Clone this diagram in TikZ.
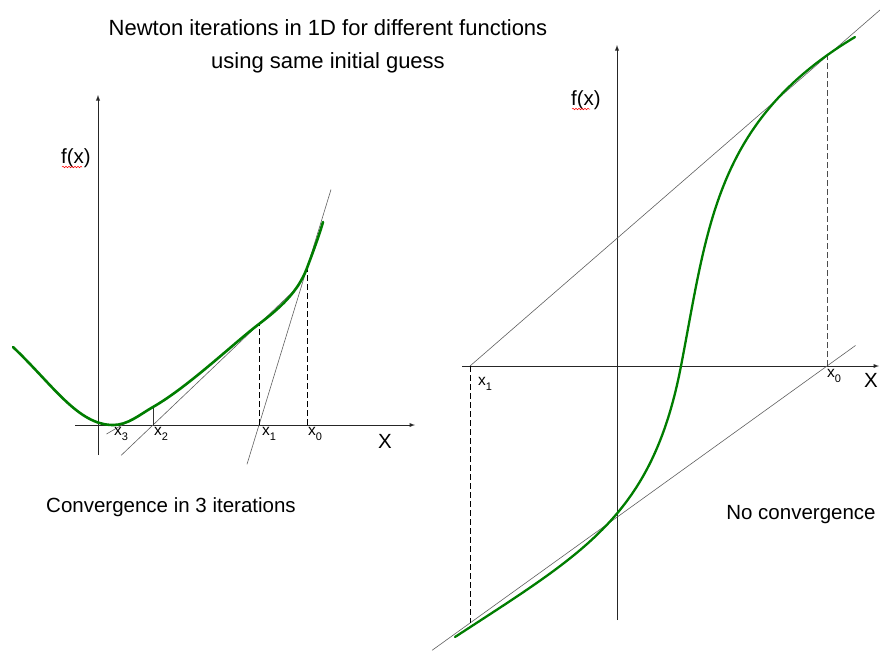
\documentclass[tikz,border=0pt]{standalone}
\usepackage{fontspec}
\setmainfont{Liberation Sans}
\usetikzlibrary{arrows, calc, math, decorations.pathmorphing}
\definecolor{mygreen}{RGB}{0,125,0}
\definecolor{mygray}{RGB}{95,95,95}
\newcommand{\xsub}[1]{x\raisebox{-0.6ex}{\fontsize{11}{11}\selectfont #1}}
\tikzset{
axisline/.style={-latex, line width=0.9pt, color=black!85},
tangent/.style={color=mygray, line width=0.6pt},
dropline/.style={dash pattern=on 6pt off 3pt, line width=0.7pt},
fcurve/.style={color=mygreen, line width=2.6pt, line cap=round},
bigtext/.style={font=\fontsize{20.5}{24}\selectfont, inner sep=0pt},
xlabel/.style={font=\fontsize{15.5}{17}\selectfont, inner sep=0pt, anchor=west},
squiggle/.style={color=red, line width=0.5pt, decorate,
  decoration={snake, amplitude=0.8pt, segment length=3pt}},
}

\begin{document}
\begin{tikzpicture}[x=1pt,y=-1pt]
\useasboundingbox (0,0) rectangle (880,657);

\node[font=\fontsize{22}{26}\selectfont, align=center, inner sep=0pt] (title) at (328,28)
{Newton iterations in 1D for different functions};
\node[font=\fontsize{22}{26}\selectfont, inner sep=0pt] (subtitle) at (328,63)
{using same initial guess};

% left: convergence
\coordinate (oL) at (98,425);
\coordinate (x0L) at (307,425);
\coordinate (x1L) at (259,425);
\coordinate (x2L) at (153,425);
\coordinate (x3L) at (122,425);
\coordinate (P0L) at (307,268);
\coordinate (P1L) at (259,324);
\coordinate (P2L) at (153,407);

\draw[axisline] (75,425) -- (415,425);
\draw[axisline] (98,455) -- (98,95);

\draw[tangent] ($(P0L)!1.25!(x1L)$) -- ($(x1L)!1.5!(P0L)$);
\draw[tangent] ($(P1L)!1.3!(x2L)$) -- ($(x2L)!1.38!(P1L)$);
\draw[tangent] ($(P2L)!1.5!(x3L)$) -- (P2L);
\draw[tangent, color=black!80] (x2L) -- (P2L);
\draw[dropline] (x0L) -- (P0L);
\draw[dropline] (x1L) -- (P1L);

\draw[fcurve] (13,347) .. controls (53,385) and (78,425) .. (113,425)
 .. controls (128,425) and (139,415) .. (P2L)
 .. controls (188,387) and (234,343) .. (P1L)
 .. controls (280,308) and (298,292) .. (P0L)
 .. controls (312,254.7) and (319,236) .. (323,222);

\node[xlabel] (lx3) at (114,434) {\xsub{3}};
\node[xlabel] (lx2) at (154,434) {\xsub{2}};
\node[xlabel] (lx1) at (262,434) {\xsub{1}};
\node[xlabel] (lx0) at (308,434) {\xsub{0}};
\node[bigtext] (lXL) at (385,441) {X};
\node[bigtext] (fxL) at (76,158) {f(x)};
\draw[squiggle] (62,167) -- (82,167);
\node[bigtext] (convL) at (171,507) {Convergence in 3 iterations};

% right: no convergence
\coordinate (oR) at (617,366);
\coordinate (x0R) at (827,366);
\coordinate (x1R) at (470,366);
\coordinate (P0R) at (827,56);
\coordinate (T1R) at (470,623);
\coordinate (IR) at (681,366);

\draw[axisline] (462,366) -- (879,366);
\draw[axisline] (617,620) -- (617,45);

\draw[tangent] (x1R) -- ($(x1R)!1.16!(P0R)$);
\draw[tangent] ($(x0R)!1.106!(T1R)$) -- ($(T1R)!1.08!(x0R)$);
\draw[dropline, color=black!70] (x0R) -- (P0R);
\draw[dropline] (x1R) -- (T1R);

\draw[fcurve, line width=2.3pt] (455,637) .. controls (585,552) and (652,516) .. (IR)
 .. controls (708,226) and (715,121) .. (855,37);

\node[xlabel] (lx1R) at (478,384) {\xsub{1}};
\node[xlabel] (lx0R) at (827,376) {\xsub{0}};
\node[bigtext] (lXR) at (871,380) {X};
\node[bigtext] (fxR) at (586,100) {f(x)};
\draw[squiggle] (572,109) -- (590,109);
\node[bigtext] (convR) at (801,515) {No convergence};
\end{tikzpicture}
\end{document}
